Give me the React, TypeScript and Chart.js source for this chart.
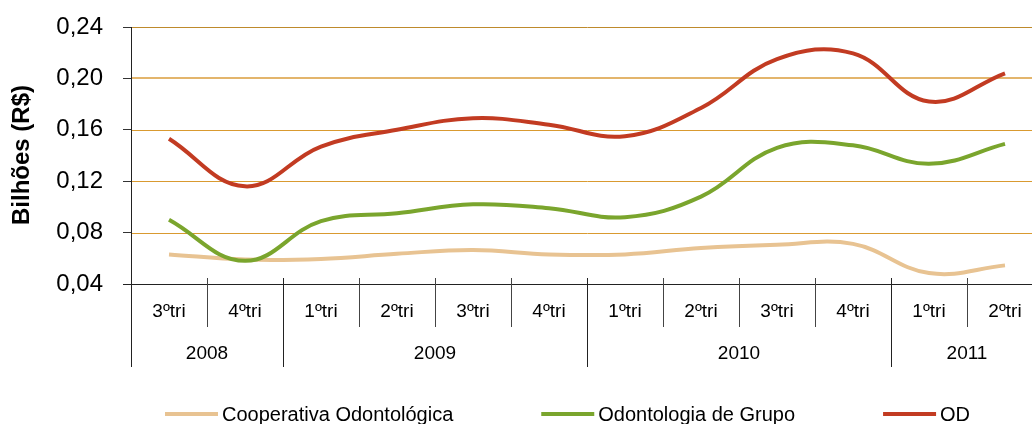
import React, { useEffect, useRef } from "react";
import { Chart, registerables } from "chart.js";

Chart.register(...registerables);

const quarters = ["3ºtri", "4ºtri", "1ºtri", "2ºtri", "3ºtri", "4ºtri", "1ºtri", "2ºtri", "3ºtri", "4ºtri", "1ºtri", "2ºtri"];
const years = ["2008", "2009", "2010", "2011"];
const yearSpans = [2, 4, 4, 2];

const cooperativa = [0.063, 0.059, 0.0595, 0.0635, 0.0665, 0.063, 0.063, 0.068, 0.0705, 0.0712, 0.0485, 0.0545];
const grupo = [0.09, 0.058, 0.089, 0.095, 0.102, 0.099, 0.092, 0.108, 0.146, 0.148, 0.1335, 0.149];
const od = [0.153, 0.116, 0.147, 0.16, 0.169, 0.164, 0.155, 0.177, 0.215, 0.2195, 0.182, 0.204];

const seriesNames = ["Cooperativa Odontológica", "Odontologia de Grupo", "OD"];
const seriesColors = ["#E8C392", "#7AA52D", "#C23B22"];

const yTicks = [0.04, 0.08, 0.12, 0.16, 0.2, 0.24];
const yTitle = "Bilhões (R$)";

const FONT = "'Liberation Sans', Arial, sans-serif";

function gridColor(v: number) {
  if (Math.abs(v - 0.2) < 1e-6) return "#E3B56C";
  if (Math.abs(v - 0.24) < 1e-6) return "#BE8A2C";
  return "#D99A30";
}

const gridPlugin = {
  id: "goldGrid",
  beforeDatasetsDraw(chart: any) {
    const ctx = chart.ctx;
    const y = chart.scales.y;
    const area = chart.chartArea;
    ctx.save();
    yTicks.forEach((v) => {
      if (Math.abs(v - 0.04) < 1e-6) return;
      const py = Math.round(y.getPixelForValue(v));
      const wide = Math.abs(v - 0.2) < 1e-6;
      ctx.strokeStyle = gridColor(v);
      ctx.lineWidth = wide ? 2 : 1;
      ctx.beginPath();
      const yy = wide ? py : py + 0.5;
      ctx.moveTo(area.left + 1, yy);
      ctx.lineTo(area.right, yy);
      ctx.stroke();
    });
    ctx.restore();
  },
};

const axisPlugin = {
  id: "multiAxis",
  afterDraw(chart: any) {
    const ctx = chart.ctx;
    const x = chart.scales.x;
    const area = chart.chartArea;
    const n = quarters.length;
    const step = (area.right - area.left) / n;
    ctx.save();
    // x axis line
    ctx.strokeStyle = "#222";
    ctx.lineWidth = 1;
    ctx.beginPath();
    ctx.moveTo(area.left - 8, Math.round(area.bottom) + 0.5);
    ctx.lineTo(area.right, Math.round(area.bottom) + 0.5);
    ctx.stroke();
    // boundaries
    const yearBoundaries = new Set<number>();
    let acc = 0;
    yearBoundaries.add(0);
    yearSpans.forEach((s) => {
      acc += s;
      yearBoundaries.add(acc);
    });
    for (let i = 0; i <= n; i++) {
      const bx = Math.round(x.getPixelForValue(i) - step / 2) + 0.5;
      const isYear = yearBoundaries.has(i);
      ctx.strokeStyle = isYear ? "#222" : "#444";
      ctx.beginPath();
      ctx.moveTo(bx, area.bottom - 6);
      ctx.lineTo(bx, area.bottom + (isYear ? 83 : 43));
      ctx.stroke();
    }
    // quarter labels
    ctx.fillStyle = "#000";
    ctx.font = `19px ${FONT}`;
    ctx.textAlign = "center";
    ctx.textBaseline = "middle";
    quarters.forEach((q, i) => {
      ctx.fillText(q, x.getPixelForValue(i), area.bottom + 28);
    });
    // years
    let start = 0;
    years.forEach((yr, k) => {
      const end = start + yearSpans[k] - 1;
      const cx = (x.getPixelForValue(start) + x.getPixelForValue(end)) / 2;
      ctx.fillText(yr, cx, area.bottom + 70);
      start += yearSpans[k];
    });
    // y title
    ctx.save();
    ctx.translate(22, 155);
    ctx.rotate(-Math.PI / 2);
    ctx.font = `bold 24px ${FONT}`;
    ctx.fillText(yTitle, 0, 0);
    ctx.restore();
    // legend
    ctx.font = `20px ${FONT}`;
    ctx.textAlign = "left";
    let lx = 165;
    const ly = 414;
    [0, 1, 2].forEach((k) => {
      ctx.strokeStyle = seriesColors[k];
      ctx.lineWidth = 4;
      ctx.beginPath();
      ctx.moveTo(lx, ly);
      ctx.lineTo(lx + 53, ly);
      ctx.stroke();
      ctx.fillStyle = "#000";
      ctx.fillText(seriesNames[k], lx + 57, ly + 1);
      lx += 57 + ctx.measureText(seriesNames[k]).width + 88;
    });
    ctx.restore();
  },
};

export default function App() {
  const ref = useRef<HTMLCanvasElement>(null);
  useEffect(() => {
    if (!ref.current) return;
    const mk = (data: number[], k: number, order: number) => ({
      label: seriesNames[k],
      data,
      borderColor: seriesColors[k],
      backgroundColor: seriesColors[k],
      borderWidth: 4,
      pointRadius: 0,
      tension: 0.4,
      fill: false,
      order,
    });
    const chart = new Chart(ref.current, {
      type: "line",
      data: {
        labels: quarters.map((q, i) => `${q}-${i}`),
        datasets: [mk(cooperativa, 0, 3), mk(grupo, 1, 2), mk(od, 2, 1)],
      },
      options: {
        animation: false,
        responsive: false,
        maintainAspectRatio: false,
        layout: { padding: { left: 0, right: 17, top: 27, bottom: 140 } },
        plugins: { legend: { display: false }, tooltip: { enabled: false } },
        scales: {
          x: { type: "category", display: false, offset: true },
          y: {
            min: 0.04,
            max: 0.24,
            afterBuildTicks: (scale: any) => {
              scale.ticks = yTicks.map((v) => ({ value: v }));
            },
            afterFit: (scale: any) => {
              scale.width = 131;
              scale.paddingTop = 0;
              scale.paddingBottom = 0;
            },
            border: { display: true, color: "#222", width: 1 },
            grid: {
              drawOnChartArea: false,
              color: "#333",
              tickColor: "#333",
              tickLength: 8,
            },
            ticks: {
              padding: 20,
              color: "#000",
              font: { family: FONT, size: 24 },
              callback: (v: any) => Number(v).toFixed(2).replace(".", ","),
            },
          },
        },
      },
      plugins: [gridPlugin, axisPlugin],
    });
    return () => chart.destroy();
  }, []);
  return (
    <div style={{ position: "fixed", left: 0, top: 0, width: 1032, height: 424, overflow: "hidden", background: "#fff" }}>
      <canvas ref={ref} width={1060} height={424} style={{ width: 1060, height: 424, display: "block" }} />
    </div>
  );
}
